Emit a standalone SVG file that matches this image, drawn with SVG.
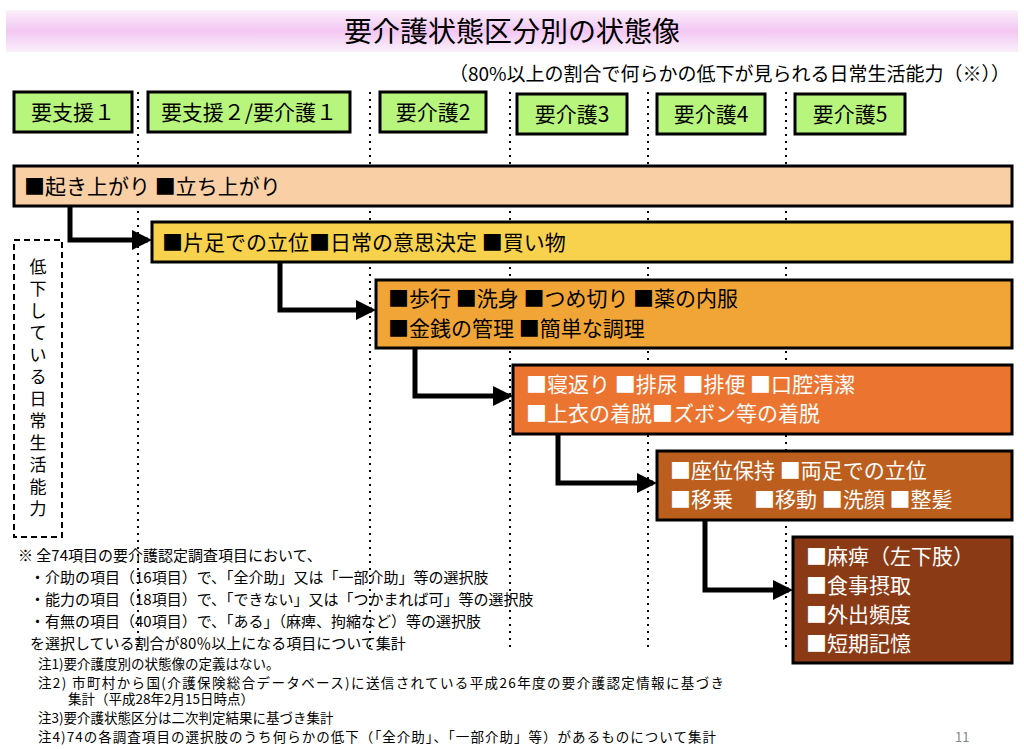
<svg xmlns="http://www.w3.org/2000/svg" width="1024" height="749" viewBox="0 0 1024 749">
<defs>
<linearGradient id="tg" x1="0" y1="0" x2="0" y2="1"><stop offset="0" stop-color="#fbf0fb"/><stop offset="0.5" stop-color="#f2c6f2"/><stop offset="1" stop-color="#fbf0fb"/></linearGradient>
<marker id="ah" markerWidth="4" markerHeight="4" refX="3.2" refY="2" orient="auto" markerUnits="strokeWidth"><path d="M0,0 L4,2 L0,4 z" fill="#000"/></marker>
</defs>
<style>
text{font-family:"Noto Sans CJK JP","Noto Sans CJK SC",sans-serif;fill:#000}
.hd rect{fill:#b8f57c;stroke:#000;stroke-width:3}
.hd text{font-size:21px;text-anchor:middle}
.bx{stroke:#000;stroke-width:3}
.bt{font-size:21px}
.w{fill:#fff}
.dl{stroke:#000;stroke-width:2;stroke-dasharray:2,5}
.cn{fill:none;stroke:#000;stroke-width:5;marker-end:url(#ah)}
.nt{font-size:15px}
.ns{font-size:13.5px}
.vt{font-size:17px;text-anchor:middle}
</style>
<rect width="1024" height="749" fill="#fff"/>
<rect x="6" y="10" width="1012" height="42" fill="url(#tg)"/>
<text x="512" y="42" font-size="28" text-anchor="middle">要介護状態区分別の状態像</text>
<text x="1010" y="81" font-size="19" text-anchor="end">（80%以上の割合で何らかの低下が見られる日常生活能力（※））</text>
<g id="dots">
<line class="dl" x1="138" y1="92" x2="138" y2="650"/>
<line class="dl" x1="370" y1="92" x2="370" y2="650"/>
<line class="dl" x1="510" y1="92" x2="510" y2="650"/>
<line class="dl" x1="648" y1="92" x2="648" y2="650"/>
<line class="dl" x1="786" y1="92" x2="786" y2="650"/>
</g>
<g id="h1" class="hd"><rect x="14" y="92" width="118" height="40"/><text x="73" y="120">要支援１</text></g>
<g id="h2" class="hd"><rect x="148" y="92" width="202" height="40"/><text x="249" y="120">要支援２/要介護１</text></g>
<g id="h3" class="hd"><rect x="380" y="92" width="106" height="40"/><text x="433" y="120">要介護2</text></g>
<g id="h4" class="hd"><rect x="517" y="94" width="110" height="40"/><text x="572" y="122">要介護3</text></g>
<g id="h5" class="hd"><rect x="657" y="94" width="108" height="40"/><text x="711" y="122">要介護4</text></g>
<g id="h6" class="hd"><rect x="795" y="94" width="110" height="40"/><text x="850" y="122">要介護5</text></g>
<g id="side"><rect x="14" y="240" width="48" height="297" fill="#fff" stroke="#000" stroke-width="2" stroke-dasharray="6,4"/>
<text class="vt" x="38" y="273">低</text><text class="vt" x="38" y="295">下</text><text class="vt" x="38" y="317">し</text><text class="vt" x="38" y="339">て</text><text class="vt" x="38" y="361">い</text><text class="vt" x="38" y="383">る</text><text class="vt" x="38" y="405">日</text><text class="vt" x="38" y="427">常</text><text class="vt" x="38" y="449">生</text><text class="vt" x="38" y="471">活</text><text class="vt" x="38" y="493">能</text><text class="vt" x="38" y="515">力</text></g>
<g id="connectors">
<path class="cn" d="M70,206 V240 H148"/>
<path class="cn" d="M280,262 V310 H372"/>
<path class="cn" d="M415,348 V396 H509"/>
<path class="cn" d="M558,434 V483 H653"/>
<path class="cn" d="M705,520 V590 H789"/>
</g>
<g id="b1"><rect class="bx" x="14" y="166" width="998" height="40" fill="#f9cfa6"/><text class="bt" x="24" y="194">■起き上がり ■立ち上がり</text></g>
<g id="b2"><rect class="bx" x="152" y="222" width="860" height="40" fill="#f8d24c"/><text class="bt" x="162" y="250">■片足での立位■日常の意思決定 ■買い物</text></g>
<g id="b3"><rect class="bx" x="376" y="280" width="636" height="68" fill="#f0a536"/><text class="bt" x="388" y="306">■歩行 ■洗身 ■つめ切り ■薬の内服</text><text class="bt" x="388" y="336">■金銭の管理 ■簡単な調理</text></g>
<g id="b4"><rect class="bx" x="513" y="365" width="499" height="69" fill="#ec7431"/><text class="bt w" x="526" y="392">■寝返り ■排尿 ■排便 ■口腔清潔</text><text class="bt w" x="526" y="421">■上衣の着脱■ズボン等の着脱</text></g>
<g id="b5"><rect class="bx" x="657" y="451" width="355" height="69" fill="#bc5e1e"/><text class="bt w" x="670" y="478">■座位保持 ■両足での立位</text><text class="bt w" x="670" y="507">■移乗　■移動 ■洗顔 ■整髪</text></g>
<g id="b6"><rect class="bx" x="793" y="537" width="219" height="126" fill="#8b3a16"/><text class="bt w" x="806" y="564">■麻痺（左下肢）</text><text class="bt w" x="806" y="593">■食事摂取</text><text class="bt w" x="806" y="622">■外出頻度</text><text class="bt w" x="806" y="651">■短期記憶</text></g>
<g id="notes">
<text class="nt" x="18" y="561">※  全74項目の要介護認定調査項目において、</text>
<text class="nt" x="30" y="583">・介助の項目（16項目）で、「全介助」又は「一部介助」等の選択肢</text>
<text class="nt" x="30" y="605">・能力の項目（18項目）で、「できない」又は「つかまれば可」等の選択肢</text>
<text class="nt" x="30" y="627">・有無の項目（40項目）で、「ある」（麻痺、拘縮など）等の選択肢</text>
<text class="nt" x="30" y="649">を選択している割合が80％以上になる項目について集計</text>
<text class="ns" x="38" y="669">注1)要介護度別の状態像の定義はない。</text>
<text class="ns" x="38" y="688" textLength="686">注2) 市町村から国(介護保険総合データベース)に送信されている平成26年度の要介護認定情報に基づき</text>
<text class="ns" x="68" y="704">集計（平成28年2月15日時点）</text>
<text class="ns" x="38" y="723">注3)要介護状態区分は二次判定結果に基づき集計</text>
<text class="ns" x="38" y="742" textLength="678">注4)74の各調査項目の選択肢のうち何らかの低下（「全介助」、「一部介助」等）があるものについて集計</text>
<text x="955" y="742" font-size="13" style="fill:#888">11</text>
</g>
</svg>
